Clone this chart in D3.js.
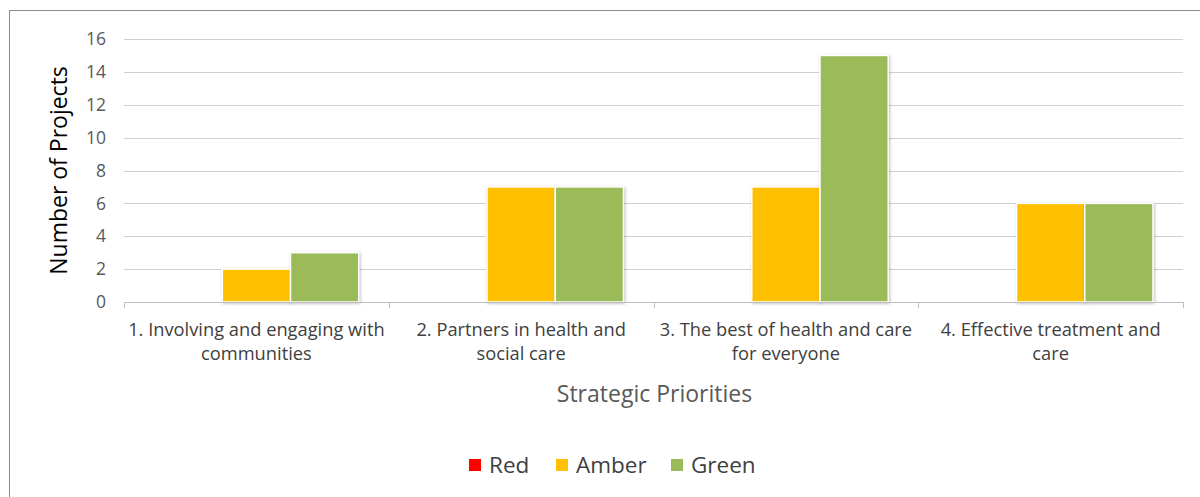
<!DOCTYPE html>
<html>
<head>
<meta charset="utf-8">
<script src="https://cdn.jsdelivr.net/npm/d3@7"></script>
<style>
  body { margin: 0; background: #fff; }
  text { font-family: "Open Sans", "Noto Sans", sans-serif; }
</style>
</head>
<body>
<div id="chart"></div>
<script>
// categories, series and values
var categories = [
  ["1. Involving and engaging with", "communities"],
  ["2. Partners in health and", "social care"],
  ["3. The best of health and care", "for everyone"],
  ["4. Effective treatment and", "care"]
];
var seriesNames = ["Red", "Amber", "Green"];
var seriesColors = ["#FF0000", "#FFC000", "#9BBB59"];
var red = [0, 0, 0, 0];
var amber = [2, 7, 7, 6];
var green = [3, 7, 15, 6];
var yTicks = [0, 2, 4, 6, 8, 10, 12, 14, 16];

var svgWidth = 1200;
var svgHeight = 497;

var margin = { top: 39, right: 17, bottom: 195, left: 124 };
var width = svgWidth - margin.left - margin.right;
var height = svgHeight - margin.top - margin.bottom;

var svg = d3.select("#chart")
  .append("svg")
  .attr("width", svgWidth)
  .attr("height", svgHeight);

// outer frame
svg.append("rect")
  .attr("x", 9.5).attr("y", 10.5)
  .attr("width", 1200).attr("height", 500)
  .attr("fill", "none")
  .attr("stroke", "#8c8c8c")
  .attr("stroke-width", 1);

var chartGroup = svg.append("g")
  .attr("transform", `translate(${margin.left}, ${margin.top})`);

var values = [red, amber, green];
var table = categories.map(function(c, i) {
  return { idx: i, vals: values.map(function(v) { return v[i]; }) };
});

var xScale = d3.scaleBand()
  .domain(d3.range(categories.length))
  .range([0, width]);

var xInner = d3.scaleBand()
  .domain(d3.range(seriesNames.length))
  .range([0, xScale.bandwidth()])
  .paddingOuter(0.44)
  .paddingInner(0);

var yScale = d3.scaleLinear()
  .domain([0, 16])
  .range([height, 0]);

// gridlines
chartGroup.append("g")
  .selectAll("line")
  .data(yTicks.slice(1))
  .enter()
  .append("line")
  .attr("x1", 0).attr("x2", width)
  .attr("y1", d => Math.round(yScale(d)) + 0.5)
  .attr("y2", d => Math.round(yScale(d)) + 0.5)
  .attr("stroke", "#d0d0d0");

// y tick labels
chartGroup.append("g")
  .selectAll("text")
  .data(yTicks)
  .enter()
  .append("text")
  .attr("x", -18)
  .attr("y", d => yScale(d))
  .attr("dy", "0.35em")
  .attr("text-anchor", "end")
  .attr("font-size", 17.5)
  .attr("fill", "#595959")
  .text(d => d);

// bars
var groups = chartGroup.selectAll(".grp")
  .data(table)
  .enter()
  .append("g")
  .attr("transform", d => `translate(${xScale(d.idx)}, 0)`);

groups.selectAll("rect")
  .data(d => d.vals.map(function(v, j) { return { v: v, j: j }; }))
  .enter()
  .append("rect")
  .attr("x", d => xInner(d.j))
  .attr("y", d => yScale(d.v))
  .attr("width", xInner.bandwidth())
  .attr("height", d => height - yScale(d.v))
  .attr("fill", d => seriesColors[d.j])
  .attr("stroke", d => d.v > 0 ? "#fff" : "none")
  .attr("stroke-width", 1.5)
  .style("filter", "drop-shadow(1px 1px 1.5px rgba(0,0,0,0.25))");

// x axis line and ticks
chartGroup.append("line")
  .attr("x1", 0).attr("x2", width)
  .attr("y1", height + 0.5).attr("y2", height + 0.5)
  .attr("stroke", "#bfbfbf");
chartGroup.append("g")
  .selectAll("line")
  .data(d3.range(categories.length + 1))
  .enter()
  .append("line")
  .attr("x1", d => Math.round(d * xScale.step()) + 0.5)
  .attr("x2", d => Math.round(d * xScale.step()) + 0.5)
  .attr("y1", height)
  .attr("y2", height + 6)
  .attr("stroke", "#bfbfbf");

// category labels
var catLabels = chartGroup.append("g")
  .selectAll("text")
  .data(categories)
  .enter()
  .append("text")
  .attr("text-anchor", "middle")
  .attr("font-size", 18.3)
  .attr("fill", "#404040")
  .attr("transform", (d, i) => `translate(${xScale(i) + xScale.bandwidth() / 2}, ${height + 34})`);
catLabels.selectAll("tspan")
  .data(d => d)
  .enter()
  .append("tspan")
  .attr("x", 0)
  .attr("dy", (d, i) => i === 0 ? 0 : 24)
  .text(d => d);

// axis titles
chartGroup.append("text")
  .attr("transform", "rotate(-90)")
  .attr("x", 0 - height / 2)
  .attr("y", -57)
  .attr("text-anchor", "middle")
  .attr("font-size", 23)
  .attr("fill", "#000")
  .text("Number of Projects");

chartGroup.append("text")
  .attr("x", width / 2 + 1)
  .attr("y", height + 100)
  .attr("text-anchor", "middle")
  .attr("font-size", 23)
  .attr("fill", "#595959")
  .text("Strategic Priorities");

// legend
var legendX = [469, 556, 671];
var legend = svg.append("g")
  .selectAll("g")
  .data(seriesNames)
  .enter()
  .append("g")
  .attr("transform", (d, i) => `translate(${legendX[i]}, 465)`);
legend.append("rect")
  .attr("x", 0).attr("y", -6)
  .attr("width", 12).attr("height", 12)
  .attr("fill", (d, i) => seriesColors[i]);
legend.append("text")
  .attr("x", 20)
  .attr("dy", "0.35em")
  .attr("font-size", 22.5)
  .attr("fill", "#404040")
  .text(d => d);
</script>
</body>
</html>
